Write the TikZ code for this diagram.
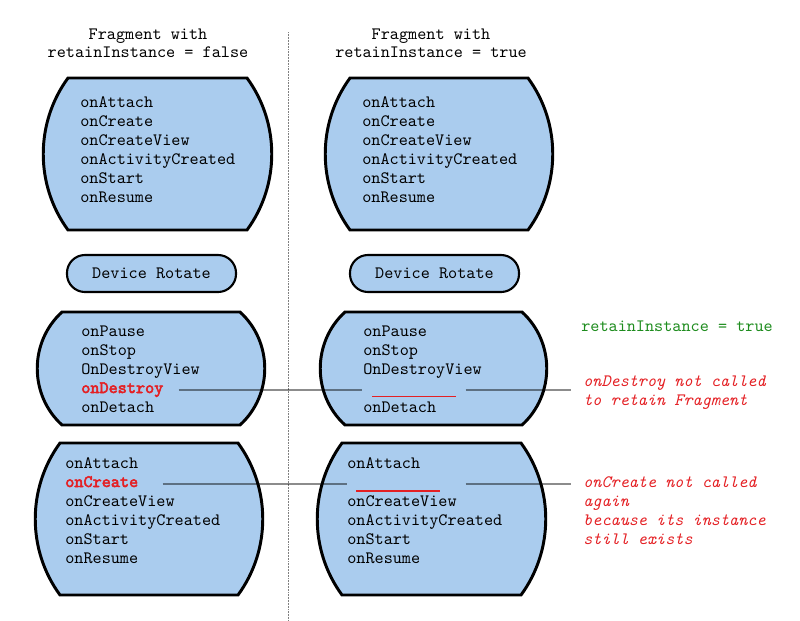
\documentclass[tikz,border=0pt]{standalone}
\usepackage{fontspec}
\setmonofont{lmmono10-regular}[Extension=.otf,ItalicFont=lmmono10-italic]
\newfontfamily\hotface{lmmono10-regular}[Extension=.otf,FakeBold=3]
\definecolor{boxblue}{RGB}{170,204,238}
\definecolor{callred}{RGB}{228,32,36}
\definecolor{notegreen}{RGB}{30,140,30}
\newcommand{\bulgebox}[6]{\draw[lifebox] (#1,#3) -- (#2,#3) .. controls +(#5,#6) and +(#5,-#6) .. (#2,#4) -- (#1,#4) .. controls +(-#5,-#6) and +(-#5,#6) .. cycle;}
\tikzset{lifebox/.style={draw=black,fill=boxblue,line width=2.1pt,line join=miter}}
\tikzset{fn/.style={font=\ttfamily\fontsize{12.35}{14}\selectfont,inner sep=0pt,anchor=base west}}
\tikzset{hotfn/.style={fn,text=callred,font=\hotface\fontsize{12.35}{14}\selectfont}}
\tikzset{notefn/.style={fn,text=callred,font=\ttfamily\itshape\fontsize{12.35}{14}\selectfont}}
\tikzset{gapfn/.style={fn,minimum width=2.075cm}}
\tikzset{rotbox/.style={draw=black,fill=boxblue,line width=1.5pt,rounded corners=0.45cm,minimum width=4.225cm,minimum height=0.925cm,inner sep=0pt,font=\ttfamily\fontsize{12.35}{14}\selectfont}}
\tikzset{link/.style={black,opacity=0.45,line width=0.9pt}}
\tikzset{miss/.style={callred,line width=1.1pt}}

\begin{document}
\begin{tikzpicture}[x=0.025cm,y=-0.025cm]
	\useasboundingbox (0,0) rectangle (800,620);

	\draw[gray,line width=0.7pt,dash pattern=on 0.5pt off 0.6pt] (288.5,32) -- (288.5,620); % divider

	\node[fn,anchor=base] (titleL-1) at (148,39) {Fragment with};
	\node[fn,anchor=base] (titleL-2) at (148,57) {retainInstance = false};
	\node[fn,anchor=base] (titleR-1) at (431,39) {Fragment with};
	\node[fn,anchor=base] (titleR-2) at (431,57) {retainInstance = true};

	% first start
	\bulgebox{68}{247}{78}{230}{33}{45}
	\bulgebox{350}{528}{78}{230}{33}{45}
	\foreach \t [count=\i] in {onAttach,onCreate,onCreateView,onActivityCreated,onStart,onResume}{
		\node[fn] (startL-\i) at (80,88+19*\i) {\t};
		\node[fn] (startR-\i) at (362,88+19*\i) {\t};
	}

	\node[rotbox] (rotL) at (151.5,273.5) {Device Rotate};
	\node[rotbox] (rotR) at (434.5,273.5) {Device Rotate};

	% teardown
	\bulgebox{62}{240}{312}{425}{33}{30}
	\bulgebox{345}{522}{312}{425}{33}{30}
	\foreach \t [count=\i] in {onPause,onStop,OnDestroyView}{
		\node[fn] (downL-\i) at (81,317+19*\i) {\t};
		\node[fn] (downR-\i) at (363,317+19*\i) {\t};
	}
	\node[hotfn] (downL-4) at (81,393) {onDestroy};
	\node[gapfn] (downR-4) at (372,393) {};
	\node[fn] (downL-5) at (81,412) {onDetach};
	\node[fn] (downR-5) at (363,412) {onDetach};

	% restart
	\bulgebox{60}{238}{443}{595}{33}{45}
	\bulgebox{342}{521}{443}{595}{33}{45}
	\node[fn] (upL-1) at (65,468) {onAttach};
	\node[fn] (upR-1) at (347,468) {onAttach};
	\node[hotfn] (upL-2) at (65,487) {onCreate};
	\node[gapfn] (upR-2) at (356,487) {};
	\foreach \t [count=\i from 3] in {onCreateView,onActivityCreated,onStart,onResume}{
		\node[fn] (upL-\i) at (65,449+19*\i) {\t};
		\node[fn] (upR-\i) at (347,449+19*\i) {\t};
	}

	% notes
	\node[fn,text=notegreen] (keep) at (581,331) {retainInstance = true};
	\node[notefn] (noteD-1) at (583,386) {onDestroy not called};
	\node[notefn] (noteD-2) at (583,405) {to retain Fragment};
	\foreach \t [count=\i] in {onCreate not called,again,because its instance,still exists}
		\node[notefn] (noteC-\i) at (583,468+19*\i) {\t};

	% missing calls
	\draw[miss] ([yshift=-0.0875cm]downR-4.base west) -- ([yshift=-0.0875cm]downR-4.base east);
	\draw[miss] ([yshift=-0.1cm]upR-2.base west) -- ([yshift=-0.1cm]upR-2.base east);

	\draw[link] ([xshift=0.375cm]downL-4.mid east) -- ([xshift=-0.25cm]downR-4.mid west);
	\draw[link] ([xshift=0.25cm]downR-4.mid east) -- ([xshift=-0.3cm]downR-4.mid east -| noteD-1.west);
	\draw[link] ([xshift=0.6cm]upL-2.mid east) -- ([xshift=-0.225cm]upR-2.mid west);
	\draw[link] ([xshift=0.65cm]upR-2.mid east) -- ([xshift=-0.3cm]upR-2.mid east -| noteC-1.west);
\end{tikzpicture}
\end{document}
